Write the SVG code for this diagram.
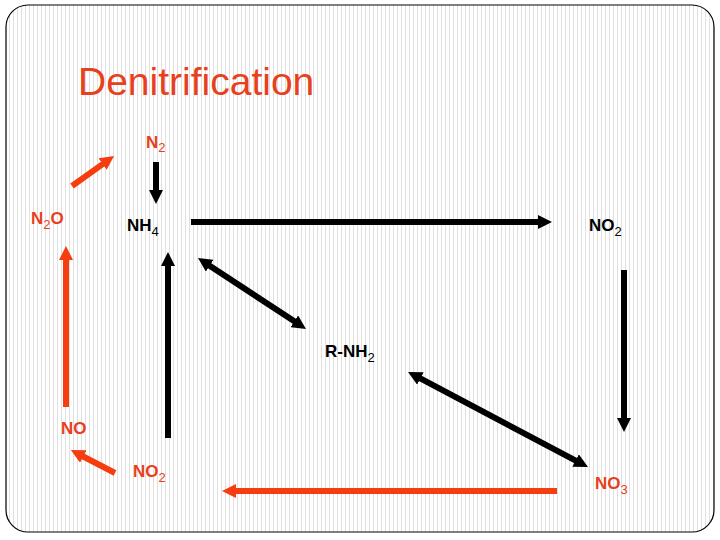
<svg xmlns="http://www.w3.org/2000/svg" width="720" height="540" viewBox="0 0 720 540">
<style>
  .lbl { font-family: "Liberation Sans", Arial, sans-serif; font-weight: bold; font-size: 17px; }
  .red { fill: #e8401c; }
  .blk { fill: #000000; }
  .sub { font-weight: normal; font-size: 13px; }
  .cb { stroke: #000000; stroke-width: 6; fill: none; }
  .cr { stroke: #f53d0f; stroke-width: 6; fill: none; }
</style>
<defs>
  <pattern id="stripes" x="0" y="0" width="4" height="10" patternUnits="userSpaceOnUse">
    <rect x="0" y="0" width="4" height="10" fill="#ffffff"/>
    <rect x="1" y="0" width="1" height="10" fill="#e0e0e0"/>
  </pattern>
  <marker id="hb" markerUnits="userSpaceOnUse" markerWidth="14" markerHeight="14" refX="6" refY="7" orient="auto-start-reverse" viewBox="0 0 14 14">
    <path d="M0,0 L14,7 L0,14 Z" fill="#000000"/>
  </marker>
  <marker id="hr" markerUnits="userSpaceOnUse" markerWidth="14" markerHeight="14" refX="6" refY="7" orient="auto-start-reverse" viewBox="0 0 14 14">
    <path d="M0,0 L14,7 L0,14 Z" fill="#f53d0f"/>
  </marker>
</defs>
<rect x="0" y="0" width="720" height="540" fill="#ffffff"/>
<rect x="6" y="5" width="708" height="527" rx="22" ry="22" fill="url(#stripes)" stroke="#000000" stroke-width="1.2"/>
<text x="78" y="95" font-family="'Liberation Sans', Arial, sans-serif" font-size="39" fill="#e8401c">Denitrification</text>

<g id="connectors">
  <line class="cb" x1="156" y1="162" x2="156" y2="196" marker-end="url(#hb)"/>
  <line class="cb" x1="191" y1="222" x2="544" y2="222" marker-end="url(#hb)"/>
  <line class="cb" x1="204.7" y1="262.4" x2="299.3" y2="324.6" marker-start="url(#hb)" marker-end="url(#hb)"/>
  <line class="cb" x1="415.1" y1="375.7" x2="580.9" y2="463.3" marker-start="url(#hb)" marker-end="url(#hb)"/>
  <line class="cb" x1="624" y1="270" x2="624" y2="424" marker-end="url(#hb)"/>
  <line class="cb" x1="168" y1="438" x2="168" y2="260" marker-end="url(#hb)"/>
  <line class="cr" x1="72" y1="186" x2="107.5" y2="160.65" marker-end="url(#hr)"/>
  <line class="cr" x1="66" y1="407" x2="66" y2="254" marker-end="url(#hr)"/>
  <line class="cr" x1="115" y1="473" x2="77.95" y2="453.77" marker-end="url(#hr)"/>
  <line class="cr" x1="557" y1="491" x2="230" y2="491" marker-end="url(#hr)"/>
</g>

<g id="node-n2"><text class="lbl red" x="146" y="148">N<tspan class="sub" dy="4">2</tspan></text></g>
<g id="node-n2o"><text class="lbl red" x="31" y="224">N<tspan class="sub" dy="5">2</tspan><tspan dy="-5">O</tspan></text></g>
<g id="node-nh4"><text class="lbl blk" x="127" y="231">NH<tspan class="sub" dy="5">4</tspan></text></g>
<g id="node-no2-top"><text class="lbl blk" x="589" y="231">NO<tspan class="sub" dy="5">2</tspan></text></g>
<g id="node-rnh2"><text class="lbl blk" x="325" y="357">R-NH<tspan class="sub" dy="5">2</tspan></text></g>
<g id="node-no"><text class="lbl red" x="61" y="434">NO</text></g>
<g id="node-no2-bottom"><text class="lbl red" x="133" y="477">NO<tspan class="sub" dy="5">2</tspan></text></g>
<g id="node-no3"><text class="lbl red" x="595" y="489">NO<tspan class="sub" dy="5">3</tspan></text></g>
</svg>
